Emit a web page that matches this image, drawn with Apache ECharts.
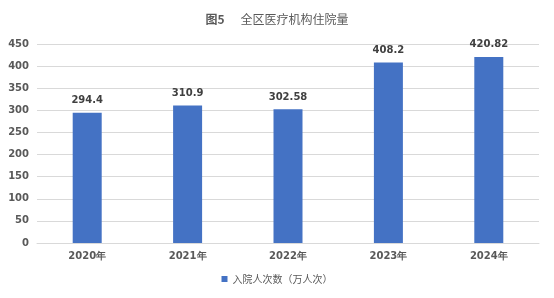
<!DOCTYPE html>
<html>
<head>
<meta charset="utf-8">
<script src="https://cdn.jsdelivr.net/npm/echarts@6/dist/echarts.min.js"></script>
<style>
html, body { margin: 0; padding: 0; background: #fff; }
#main { width: 554px; height: 298px; }
</style>
</head>
<body>
<div id="main"></div>
<script>
var years = ['2020年', '2021年', '2022年', '2023年', '2024年'];
var inpatients = [294.4, 310.9, 302.58, 408.2, 420.82];
var seriesName = '入院人次数（万人次）';

var myChart = echarts.init(document.getElementById('main'));

var option = {
	animation : false,
	backgroundColor : '#ffffff',
	title : {
		text : '{b|图5}      全区医疗机构住院量',
		left : 'center',
		top : 8,
		textStyle : {
			fontFamily : 'Noto Sans CJK SC',
			fontSize : 12,
			fontWeight : 'normal',
			color : '#595959',
			rich : {
				b : {
					fontFamily : 'Noto Sans CJK SC',
					fontSize : 12,
					fontWeight : 'bold',
					color : '#595959'
				}
			}
		}
	},
	legend : {
		bottom : 9,
		left : 'center',
		itemWidth : 6,
		itemHeight : 6,
		itemGap : 4,
		icon : 'rect',
		data : [ seriesName ],
		textStyle : {
			fontFamily : 'Noto Sans CJK SC',
			fontSize : 10,
			color : '#595959'
		}
	},
	grid : {
		left : 37,
		right : 15,
		top : 44,
		bottom : 55
	},
	xAxis : {
		type : 'category',
		data : years,
		axisLine : {
			lineStyle : {
				color : '#d9d9d9'
			}
		},
		axisTick : { show : false },
		axisLabel : {
			fontFamily : 'DejaVu Sans',
			fontSize : 10,
			fontWeight : 'bold',
			color : '#595959',
			margin : 8
		}
	},
	yAxis : {
		type : 'value',
		min : 0,
		max : 450,
		interval : 50,
		axisLine : { show : false },
		axisTick : { show : false },
		splitLine : {
			lineStyle : {
				color : '#d9d9d9'
			}
		},
		axisLabel : {
			fontFamily : 'DejaVu Sans',
			fontSize : 10,
			fontWeight : 'bold',
			color : '#595959',
			margin : 8
		}
	},
	color : [ '#4472c4' ],
	series : [ {
		name : seriesName,
		type : 'bar',
		barWidth : 29,
		data : inpatients,
		label : { // 柱顶数值
			show : true,
			position : 'top',
			distance : 7,
			fontFamily : 'DejaVu Sans',
			fontSize : 10,
			fontWeight : 'bold',
			color : '#404040'
		}
	} ]
};

myChart.setOption(option);
</script>
</body>
</html>
